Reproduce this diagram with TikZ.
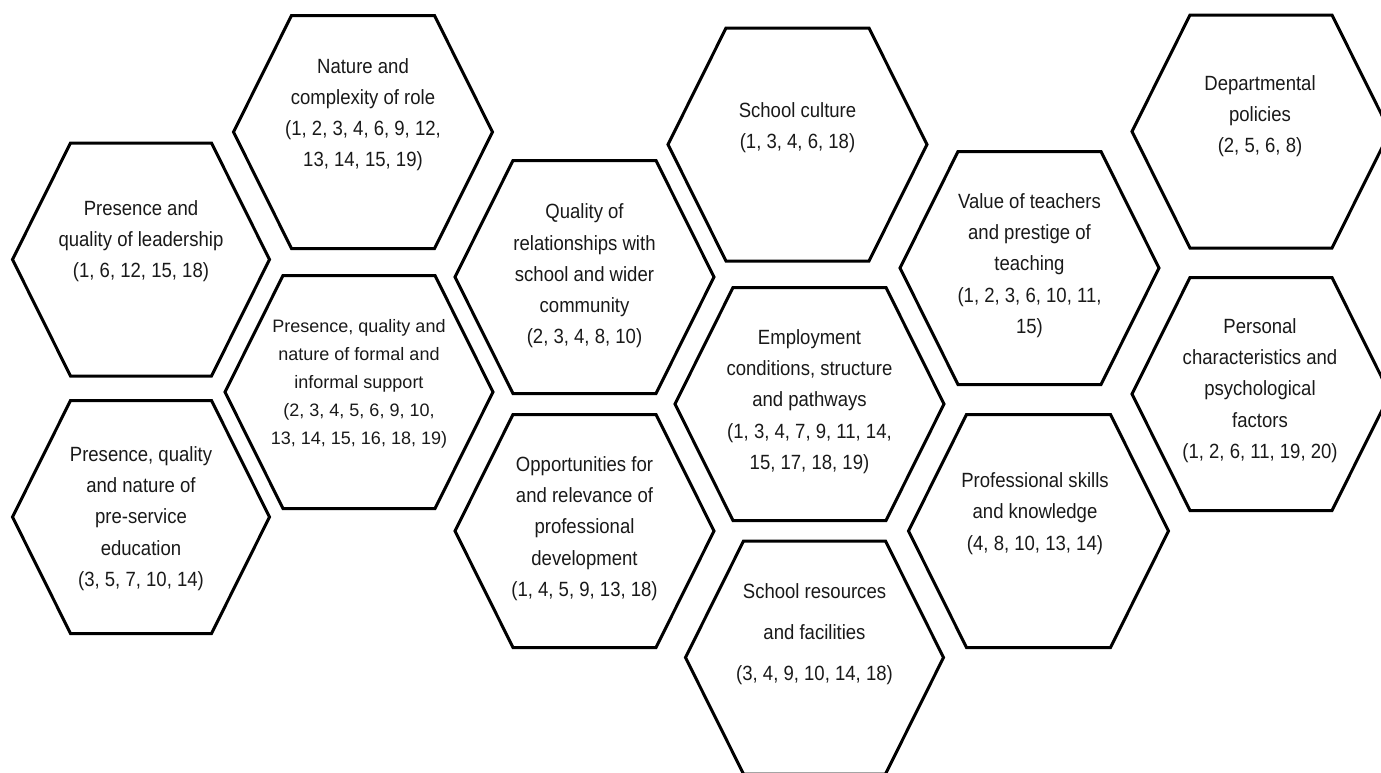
\documentclass[tikz,border=0pt]{standalone}
\usepackage{fontspec}
\setmainfont{Liberation Sans}[FakeStretch=0.9]
\newfontfamily\policelarge{Liberation Sans}

\begin{document}
\begin{tikzpicture}[x=0.5pt,y=-0.5pt]
		\tikzstyle{alveole}=[draw=black,line width=1.5pt,line join=miter]
		\tikzstyle{texte}=[align=center,inner sep=0pt,text=black!90,font={\fontsize{10.3}{15.6}\selectfont}]
		\tikzstyle{texteserre}=[texte,font={\policelarge\fontsize{9}{14}\selectfont}]
		\tikzstyle{texteaere}=[texte,font={\fontsize{10.3}{20.5}\selectfont}]
		
		\def\DemiHauteur{116.5}
		\def\Biseau{58}
		
		% alveole : centre (x,y), demi-largeur
		\def\Alveole(#1,#2)#3{%
			\draw[alveole] ({#1-#3},{#2}) -- ({#1-#3+\Biseau},{#2-\DemiHauteur})
				-- ({#1+#3-\Biseau},{#2-\DemiHauteur}) -- ({#1+#3},{#2})
				-- ({#1+#3-\Biseau},{#2+\DemiHauteur}) -- ({#1-#3+\Biseau},{#2+\DemiHauteur}) -- cycle;}
		
		\useasboundingbox (0,0) rectangle (1381,772);
		
		\Alveole(141,259.5){128.5}
		\Alveole(141,517){128.5}
		\Alveole(363,132){129.5}
		\Alveole(359,392){134}
		\Alveole(584.5,277){129.5}
		\Alveole(584.5,531){129.5}
		\Alveole(797.5,144.5){129.5}
		\Alveole(809.5,404){134.5}
		\Alveole(814.5,657.5){129}
		\Alveole(1029.5,268){129.5}
		\Alveole(1038.5,531){130}
		\Alveole(1261,131.5){129}
		\Alveole(1261,394){129}
		
		\node[texte] (Leadership) at (141,241) {Presence and\\quality of leadership\\(1, 6, 12, 15, 18)};
		\node[texte] (FormationInitiale) at (141,518.5) {Presence, quality\\and nature of\\pre-service\\education\\(3, 5, 7, 10, 14)};
		\node[texte] (Role) at (363,114.5) {Nature and\\complexity of role\\(1, 2, 3, 4, 6, 9, 12,\\13, 14, 15, 19)};
		\node[texteserre] (Soutien) at (359,383.5) {Presence, quality and\\nature of formal and\\informal support\\(2, 3, 4, 5, 6, 9, 10,\\13, 14, 15, 16, 18, 19)};
		\node[texte] (Relations) at (584.5,276) {Quality of\\relationships with\\school and wider\\community\\(2, 3, 4, 8, 10)};
		\node[texte] (Developpement) at (584.5,528.5) {Opportunities for\\and relevance of\\professional\\development\\(1, 4, 5, 9, 13, 18)};
		\node[texte] (Culture) at (797.5,127.5) {School culture\\(1, 3, 4, 6, 18)};
		\node[texte] (Emploi) at (809.5,401.5) {Employment\\conditions, structure\\and pathways\\(1, 3, 4, 7, 9, 11, 14,\\15, 17, 18, 19)};
		\node[texteaere] (Ressources) at (814.5,634) {School resources\\and facilities\\(3, 4, 9, 10, 14, 18)};
		\node[texte] (Prestige) at (1029.5,265.5) {Value of teachers\\and prestige of\\teaching\\(1, 2, 3, 6, 10, 11,\\15)};
		\node[texte] (Competences) at (1035,513.5) {Professional skills\\and knowledge\\(4, 8, 10, 13, 14)};
		\node[texte] (Politiques) at (1260,116) {Departmental\\policies\\(2, 5, 6, 8)};
		\node[texte] (Personnel) at (1260,390.5) {Personal\\characteristics and\\psychological\\factors\\(1, 2, 6, 11, 19, 20)};
\end{tikzpicture}
\end{document}
